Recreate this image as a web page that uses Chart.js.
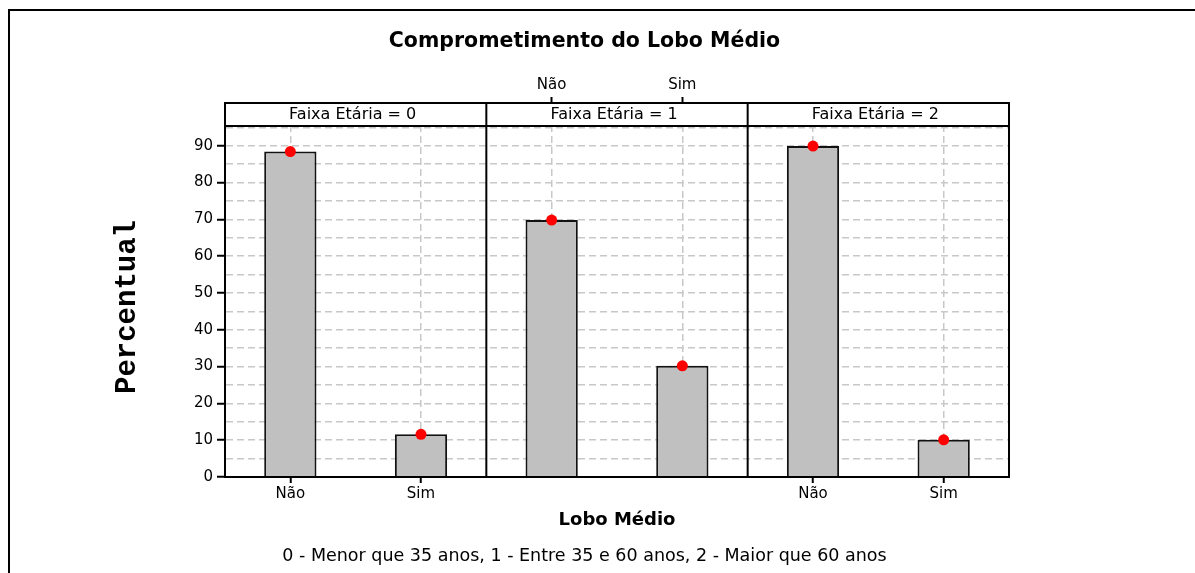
<!DOCTYPE html>
<html>
<head>
<meta charset="utf-8">
<script src="https://cdn.jsdelivr.net/npm/chart.js@4.4.1/dist/chart.umd.min.js"></script>
<style>
html,body{margin:0;padding:0;background:#fff;overflow:hidden}
#wrap{width:1195px;height:573px;position:relative}
</style>
</head>
<body>
<div id="wrap"><canvas id="c"></canvas></div>
<script>
const titleText = 'Comprometimento do Lobo Médio';
const panelLabels = ['Faixa Etária = 0', 'Faixa Etária = 1', 'Faixa Etária = 2'];
const categories = ['Não', 'Sim'];
const pctNao = [88.4, 69.8, 89.9];
const pctSim = [11.6, 30.2, 10.1];
const yTickLabels = [0, 10, 20, 30, 40, 50, 60, 70, 80, 90];
const xTitle = 'Lobo Médio';
const yTitle = 'Percentual';
const footnote = '0 - Menor que 35 anos, 1 - Entre 35 e 60 anos, 2 - Maior que 60 anos';
const topAxisPanel = 1;

const labels = [], values = [], panelOf = [];
panelLabels.forEach((p, i) => {
  categories.forEach((c, j) => {
    labels.push(c);
    values.push(j === 0 ? pctNao[i] : pctSim[i]);
    panelOf.push(i);
  });
});

const CLEAR = 'rgba(0,0,0,0)';
const GRID = '#c8c8c8';
const STRIP_H = 23;

const overlay = {
  id: 'overlay',
  beforeDraw(chart) {
    const c = chart.ctx;
    c.save();
    c.fillStyle = '#000';
    c.fillRect(8, 9, 2, chart.height - 9);
    c.fillRect(8, 9, chart.width - 8, 2);
    c.restore();
  },
  afterDraw(chart) {
    const { ctx, chartArea: a, scales: { x } } = chart;
    ctx.save();
    ctx.fillStyle = '#fff';
    ctx.fillRect(a.left, a.top, a.right - a.left, STRIP_H);
    ctx.strokeStyle = '#000';
    ctx.lineWidth = 2;
    ctx.strokeRect(a.left, a.top, a.right - a.left, a.bottom - a.top);
    const seps = [a.left];
    for (let p = 1; p < panelLabels.length; p++) {
      const i = p * categories.length;
      seps.push((x.getPixelForValue(i - 1) + x.getPixelForValue(i)) / 2);
    }
    seps.push(a.right);
    ctx.beginPath();
    ctx.moveTo(a.left, a.top + STRIP_H);
    ctx.lineTo(a.right, a.top + STRIP_H);
    for (let p = 1; p < seps.length - 1; p++) {
      ctx.moveTo(seps[p], a.top);
      ctx.lineTo(seps[p], a.bottom);
    }
    ctx.stroke();
    ctx.fillStyle = '#000';
    ctx.font = '16px "DejaVu Sans"';
    ctx.textAlign = 'center';
    ctx.textBaseline = 'middle';
    panelLabels.forEach((t, p) => {
      ctx.fillText(t, (seps[p] + seps[p + 1]) / 2 - 3, a.top + STRIP_H / 2 + 0.5);
    });
    ctx.translate(128, 307);
    ctx.rotate(-Math.PI / 2);
    ctx.font = 'bold 29px "Liberation Mono", "Courier New", monospace';
    ctx.fillText(yTitle, 0, 0);
    ctx.restore();
  }
};

new Chart(document.getElementById('c'), {
  data: {
    labels: labels,
    datasets: [
      {
        type: 'line', data: values, showLine: false,
        pointRadius: 5.5, pointHoverRadius: 5.5,
        pointBackgroundColor: '#ff0000', pointBorderColor: '#ff0000', pointBorderWidth: 0,
        order: 0
      },
      {
        type: 'bar', data: values,
        backgroundColor: '#c0c0c0', borderColor: '#111', borderWidth: 2,
        barPercentage: 0.4, categoryPercentage: 1,
        order: 1
      }
    ]
  },
  options: {
    responsive: true, maintainAspectRatio: false, animation: false, events: [],
    layout: { padding: { left: 0, right: 26, top: 0, bottom: 0 } },
    plugins: {
      legend: { display: false },
      tooltip: { enabled: false },
      title: {
        display: true, text: titleText, color: '#000',
        font: { family: 'DejaVu Sans', size: 20.5, weight: 'bold', lineHeight: 1.2 },
        padding: { top: 29.7, bottom: 0 }
      },
      subtitle: {
        display: true, position: 'bottom', text: footnote, color: '#000',
        font: { family: 'DejaVu Sans', size: 17.5, lineHeight: 1.2 },
        padding: { top: 9, bottom: 6.5 }
      }
    },
    scales: {
      x: {
        type: 'category', position: 'bottom', offset: true,
        grid: {
          offset: false, color: GRID, lineWidth: 1.5,
          drawTicks: true, tickLength: 6, tickWidth: 2, tickBorderDash: [],
          tickColor: ctx => panelOf[ctx.index] === topAxisPanel ? CLEAR : '#000'
        },
        border: { display: true, color: '#000', width: 2, dash: [7, 4] },
        ticks: {
          autoSkip: false, maxRotation: 0, minRotation: 0, color: '#000', padding: 2.2,
          font: { family: 'DejaVu Sans', size: 15 },
          callback: (v, i) => panelOf[i] === topAxisPanel ? '' : labels[i]
        },
        title: {
          display: true, text: xTitle, color: '#000',
          font: { family: 'DejaVu Sans', size: 18, weight: 'bold', lineHeight: 1.2 },
          padding: { top: 0, bottom: 5.2 }
        },
        afterFit: s => { s.height = 59.5; }
      },
      x2: {
        type: 'category', position: 'top', offset: true,
        grid: {
          offset: false, drawOnChartArea: false,
          drawTicks: true, tickLength: 6, tickWidth: 2,
          tickColor: ctx => panelOf[ctx.index] === topAxisPanel ? '#000' : CLEAR
        },
        border: { display: true, color: '#000', width: 2 },
        ticks: {
          autoSkip: false, maxRotation: 0, minRotation: 0, color: '#000', padding: 3,
          font: { family: 'DejaVu Sans', size: 15 },
          callback: (v, i) => panelOf[i] === topAxisPanel ? labels[i] : ''
        },
        afterFit: s => { s.height = 48.7; }
      },
      y: {
        type: 'linear', position: 'left', min: 0, max: 101.6,
        grid: {
          color: ctx => (ctx.tick && ctx.tick.value > 0 && ctx.tick.value <= 95) ? GRID : CLEAR,
          lineWidth: 1.5, drawTicks: true, tickLength: 8, tickWidth: 2, tickBorderDash: [],
          tickColor: ctx => (ctx.tick && yTickLabels.includes(ctx.tick.value)) ? '#000' : CLEAR
        },
        border: { display: true, color: '#000', width: 2, dash: [7, 4] },
        ticks: {
          stepSize: 5, autoSkip: false, color: '#000', padding: 4,
          font: { family: 'DejaVu Sans', size: 15 },
          callback: v => yTickLabels.includes(v) ? String(v) : ''
        },
        afterFit: s => { s.width = 225; }
      },
      yR: {
        type: 'linear', position: 'right', display: true,
        grid: { display: false, drawTicks: false },
        ticks: { display: false },
        border: { display: true, color: '#000', width: 2 },
        afterFit: s => { s.width = 160; }
      }
    }
  },
  plugins: [overlay]
});
</script>
</body>
</html>
